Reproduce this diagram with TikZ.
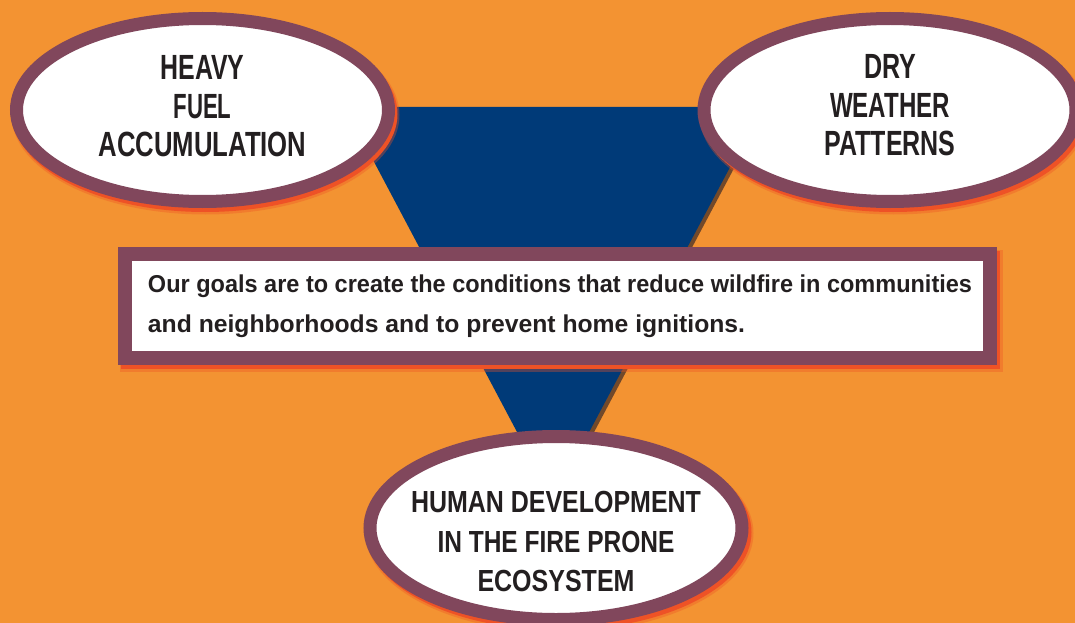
\documentclass[tikz,border=0pt]{standalone}
\usepackage{fontspec}
\setmainfont{Liberation Sans}
\usetikzlibrary{shapes.geometric}
\definecolor{bgorange}{HTML}{F39332}
\definecolor{maroonb}{HTML}{81475C}
\definecolor{navyb}{HTML}{003A78}
\definecolor{shadowred}{HTML}{EE5226}
\definecolor{trishade}{HTML}{3C2A28}
\definecolor{ink}{HTML}{231F20}
\newcommand{\fitw}[2]{\resizebox{#1}{\height}{#2}}
\begin{document}
\begin{tikzpicture}[x=1pt,y=-1pt,
  oval/.style={ellipse, draw=maroonb, fill=white, line width=13pt,
    minimum width=372pt, minimum height=183pt, inner xsep=-30pt, inner ysep=0pt, outer sep=0pt,
    align=center, text=ink},
  topfont/.style={font=\fontsize{35}{38.5}\selectfont\bfseries},
  botfont/.style={font=\fontsize{30.5}{39.5}\selectfont\bfseries},
  goalbox/.style={rectangle, draw=maroonb, fill=white, line width=14pt,
    minimum width=865pt, minimum height=104pt, inner sep=0pt, align=left,
    text=ink, font=\fontsize{24.4}{39.5}\selectfont\bfseries},
  glow/.style={fill=shadowred, opacity=0.35},
  shade/.style={fill=shadowred}
]
\useasboundingbox (0,0) rectangle (1075,623);
\fill[bgorange] (0,0) rectangle (1075,623);

% inverted triangle
\coordinate (tl) at (345,107);
\coordinate (tr) at (762,107);
\coordinate (ap) at (553,500);
\fill[trishade, opacity=0.7] (349,108) -- (766,108) -- (557,502) -- cycle;
\fill[navyb] (tl) -- (tr) -- (ap) -- cycle;

% goal box shadow
\fill[glow] (120,250) rectangle (1003,372);
\fill[shade] (121,251) rectangle (1000,369);
\node[goalbox] (goal) at (557.5,306)
  {\hspace*{5pt}\fitw{824pt}{Our goals are to create the conditions that reduce wildfire in communities}\\
   \hspace*{5pt}\fitw{597pt}{and neighborhoods and to prevent home ignitions.}};

% ellipse shadows
\fill[glow] (205.5,115) ellipse [x radius=194pt, y radius=99.5pt];
\fill[shade] (205,114) ellipse [x radius=192.5pt, y radius=98pt];
\fill[glow] (893.5,115) ellipse [x radius=194pt, y radius=99.5pt];
\fill[shade] (893,114) ellipse [x radius=192.5pt, y radius=98pt];
\fill[glow] (559.5,533) ellipse [x radius=194pt, y radius=99.5pt];
\fill[shade] (559,532) ellipse [x radius=192.5pt, y radius=98pt];

% ellipses
\node[oval, topfont] (fuel) at (202.5,110)
  {\fitw{84pt}{HEAVY}\\\fitw{58pt}{FUEL}\\\raisebox{0pt}[\height][8pt]{\fitw{208pt}{ACCUMULATION}}};
\node[oval, topfont] (weather) at (890,110)
  {\fitw{52pt}{DRY}\\\fitw{120pt}{WEATHER}\\\raisebox{0pt}[\height][10pt]{\fitw{131pt}{PATTERNS}}};
\node[oval, botfont] (human) at (556,528)
  {\raisebox{0pt}[\dimexpr\height+27pt\relax]{\fitw{290pt}{HUMAN DEVELOPMENT}}\\\fitw{237pt}{IN THE FIRE PRONE}\\\fitw{157pt}{ECOSYSTEM}};
\end{tikzpicture}
\end{document}
